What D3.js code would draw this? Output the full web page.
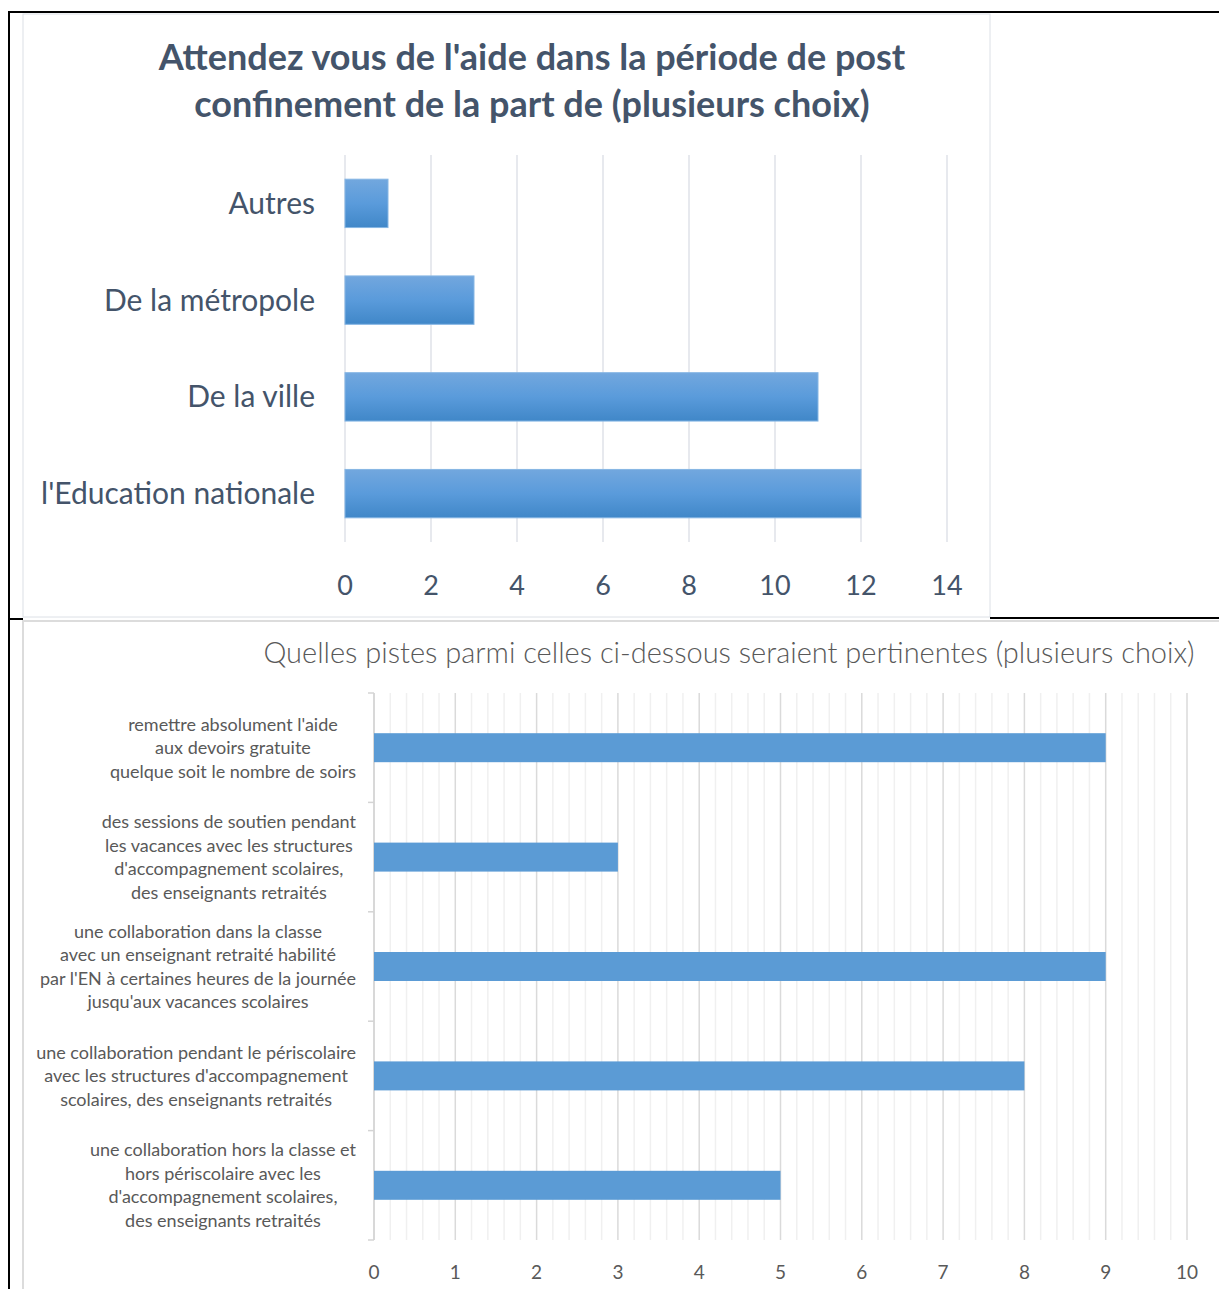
<!doctype html>
<html>
    <head>
        <meta charset="utf-8">
        <title>aide post confinement</title>
        <script src="https://d3js.org/d3.v7.min.js"></script>
        <style type="text/css">
            body { margin:0; background:#fff; }
            text { font-family:Lato, "Open Sans", sans-serif; }
        </style>
    </head>
    <body>
        <svg></svg>
        <script type="text/javascript">

            var w = 1219,
                h = 1289;

            // chart 1
            var title1 = ["Attendez vous de l'aide dans la période de post",
                          "confinement de la part de (plusieurs choix)"];
            var categories1 = ['Autres', 'De la métropole', 'De la ville', "l'Education nationale"];
            var values1 = [1, 3, 11, 12];
            var ticks1 = [0, 2, 4, 6, 8, 10, 12, 14];

            // chart 2
            var title2 = 'Quelles pistes parmi celles ci-dessous seraient pertinentes (plusieurs choix)';
            var categories2 = [
                "remettre absolument l'aide\naux devoirs gratuite\nquelque soit le nombre de soirs",
                "des sessions de soutien pendant\nles vacances avec les structures\nd'accompagnement scolaires,\ndes enseignants retraités",
                "une collaboration dans la classe\navec un enseignant retraité habilité\npar l'EN à certaines heures de la journée\njusqu'aux vacances scolaires",
                "une collaboration pendant le périscolaire\navec les structures d'accompagnement\nscolaires, des enseignants retraités",
                "une collaboration hors la classe et\nhors périscolaire avec les\nd'accompagnement scolaires,\ndes enseignants retraités"
            ];
            var values2 = [9, 3, 9, 8, 5];
            var ticks2 = [0, 1, 2, 3, 4, 5, 6, 7, 8, 9, 10];

            var svg = d3.select('svg')
                .attr('width', w)
                .attr('height', h);

            var defs = svg.append('defs');
            var grad = defs.append('linearGradient')
                .attr('id', 'barGrad')
                .attr('x1', 0).attr('y1', 0)
                .attr('x2', 0).attr('y2', 1);
            grad.append('stop').attr('offset', '0%').attr('stop-color', '#72a7de');
            grad.append('stop').attr('offset', '50%').attr('stop-color', '#5a9bdb');
            grad.append('stop').attr('offset', '100%').attr('stop-color', '#4087c8');

            // frames
            svg.append('rect')
                .attr('x', 23).attr('y', 14)
                .attr('width', 967).attr('height', 603)
                .attr('fill', '#fff')
                .attr('stroke', '#dce0e6');

            svg.append('rect')
                .attr('x', 23).attr('y', 621)
                .attr('width', 1210).attr('height', 690)
                .attr('fill', '#fff')
                .attr('stroke', '#dcdcdc')
                .attr('stroke-width', 2);

            var frame = svg.append('g')
                .attr('stroke', '#000')
                .attr('stroke-width', 2);
            frame.append('line').attr('x1', 8).attr('x2', w).attr('y1', 12).attr('y2', 12);
            frame.append('line').attr('x1', 9).attr('x2', 9).attr('y1', 11).attr('y2', h);
            frame.append('line').attr('x1', 8).attr('x2', 23).attr('y1', 619).attr('y2', 619);
            frame.append('line').attr('x1', 990).attr('x2', w).attr('y1', 618).attr('y2', 618);

            // ---------- chart 1 ----------
            var x1 = d3.scaleLinear()
                .domain([0, 14])
                .range([345, 947]);

            var y1 = d3.scaleBand()
                .domain(categories1)
                .range([155, 542])
                .paddingInner(0.5)
                .paddingOuter(0.25);

            var c1 = svg.append('g');

            c1.selectAll('text.title')
                .data(title1)
                .enter()
                .append('text')
                .attr('class', 'title')
                .attr('x', 532)
                .attr('y', function(d, i){ return 70 + i * 47; })
                .attr('text-anchor', 'middle')
                .attr('font-size', 36)
                .attr('font-weight', 'bold')
                .attr('fill', '#44546a')
                .text(function(d){ return d; });

            c1.selectAll('line.grid')
                .data(ticks1)
                .enter()
                .append('line')
                .attr('class', 'grid')
                .attr('x1', function(d){ return x1(d); })
                .attr('x2', function(d){ return x1(d); })
                .attr('y1', 155)
                .attr('y2', 542)
                .attr('stroke', '#dfe2e8')
                .attr('stroke-width', 1.5);

            c1.selectAll('rect.bar')
                .data(values1)
                .enter()
                .append('rect')
                .attr('class', 'bar')
                .attr('x', x1(0))
                .attr('y', function(d, i){ return y1(categories1[i]); })
                .attr('width', function(d){ return x1(d) - x1(0); })
                .attr('height', y1.bandwidth())
                .attr('fill', 'url(#barGrad)')
                .attr('stroke', '#86b6e4')
                .attr('stroke-width', 1);

            c1.selectAll('text.cat')
                .data(categories1)
                .enter()
                .append('text')
                .attr('class', 'cat')
                .attr('x', 315)
                .attr('y', function(d){ return y1(d) + y1.bandwidth() / 2; })
                .attr('dy', '0.35em')
                .attr('text-anchor', 'end')
                .attr('font-size', 30)
                .attr('fill', '#44546a')
                .text(function(d){ return d; });

            c1.selectAll('text.tick')
                .data(ticks1)
                .enter()
                .append('text')
                .attr('class', 'tick')
                .attr('x', function(d){ return x1(d); })
                .attr('y', 595)
                .attr('text-anchor', 'middle')
                .attr('font-size', 27)
                .attr('fill', '#44546a')
                .text(function(d){ return d; });

            // ---------- chart 2 ----------
            var x2 = d3.scaleLinear()
                .domain([0, 10])
                .range([374, 1187]);

            var y2 = d3.scaleBand()
                .domain(categories2)
                .range([693, 1240])
                .paddingInner(0.735)
                .paddingOuter(0.3675);

            var c2 = svg.append('g');

            c2.append('text')
                .attr('x', 729)
                .attr('y', 663)
                .attr('text-anchor', 'middle')
                .attr('font-size', 29)
                .attr('font-weight', 300)
                .attr('fill', '#595959')
                .text(title2);

            var minor = d3.range(0, 50).map(function(i){ return i / 5; })
                .filter(function(d){ return d % 1 !== 0; });

            c2.selectAll('line.minor')
                .data(minor)
                .enter()
                .append('line')
                .attr('class', 'minor')
                .attr('x1', function(d){ return x2(d); })
                .attr('x2', function(d){ return x2(d); })
                .attr('y1', 693)
                .attr('y2', 1240)
                .attr('stroke', '#f0f0f0')
                .attr('stroke-width', 1.5);

            c2.selectAll('line.major')
                .data(ticks2)
                .enter()
                .append('line')
                .attr('class', 'major')
                .attr('x1', function(d){ return x2(d); })
                .attr('x2', function(d){ return x2(d); })
                .attr('y1', 693)
                .attr('y2', 1240)
                .attr('stroke', '#dadada')
                .attr('stroke-width', 1.5);

            // category axis with ticks at band boundaries
            c2.append('line')
                .attr('x1', x2(0)).attr('x2', x2(0))
                .attr('y1', 693).attr('y2', 1240)
                .attr('stroke', '#d4d4d4')
                .attr('stroke-width', 1.5);

            c2.selectAll('line.ctick')
                .data(d3.range(categories2.length + 1))
                .enter()
                .append('line')
                .attr('class', 'ctick')
                .attr('x1', x2(0) - 6)
                .attr('x2', x2(0))
                .attr('y1', function(i){ return y2.range()[0] + i * y2.step(); })
                .attr('y2', function(i){ return y2.range()[0] + i * y2.step(); })
                .attr('stroke', '#d4d4d4')
                .attr('stroke-width', 1.5);

            c2.selectAll('rect.bar')
                .data(values2)
                .enter()
                .append('rect')
                .attr('class', 'bar')
                .attr('x', x2(0))
                .attr('y', function(d, i){ return y2(categories2[i]); })
                .attr('width', function(d){ return x2(d) - x2(0); })
                .attr('height', y2.bandwidth())
                .attr('fill', '#5b9bd5');

            var lh = 23.5;
            var labels = c2.selectAll('text.cat')
                .data(categories2)
                .enter()
                .append('text')
                .attr('class', 'cat')
                .attr('font-size', 18)
                .attr('fill', '#595959')
                .attr('text-anchor', 'middle');

            labels.each(function(d){
                var lines = d.split('\n');
                var cy = y2(d) + y2.bandwidth() / 2;
                var t = d3.select(this);
                t.selectAll('tspan')
                    .data(lines)
                    .enter()
                    .append('tspan')
                    .attr('y', function(l, i){ return cy + (i - (lines.length - 1) / 2) * lh; })
                    .attr('dy', '0.35em')
                    .text(function(l){ return l; });
                var maxW = 0;
                t.selectAll('tspan').each(function(){
                    maxW = Math.max(maxW, this.getComputedTextLength());
                });
                t.selectAll('tspan').attr('x', 356 - maxW / 2);
            });

            c2.selectAll('text.tick')
                .data(ticks2)
                .enter()
                .append('text')
                .attr('class', 'tick')
                .attr('x', function(d){ return x2(d); })
                .attr('y', 1279)
                .attr('text-anchor', 'middle')
                .attr('font-size', 19)
                .attr('fill', '#595959')
                .text(function(d){ return d; });
        </script>
    </body>
</html>
